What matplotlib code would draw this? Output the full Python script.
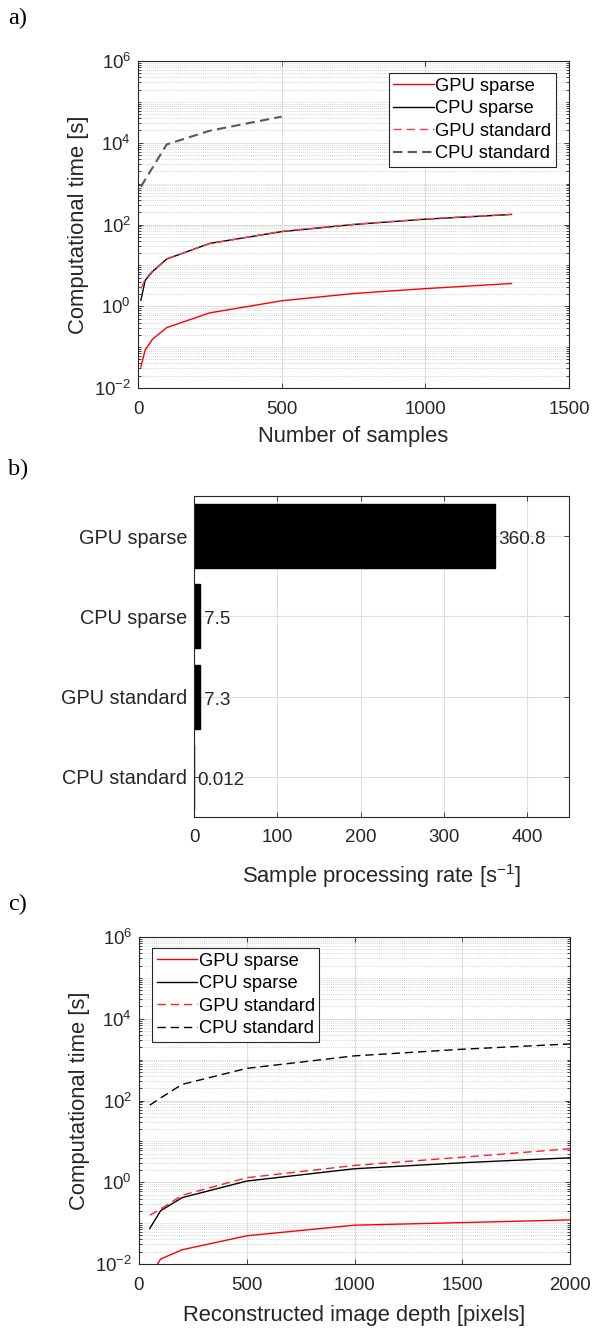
import numpy as np
import matplotlib
matplotlib.use("Agg")
import matplotlib.pyplot as plt
from matplotlib.ticker import LogLocator, NullFormatter, FixedLocator

plt.rcParams['font.family'] = ['Liberation Sans', 'DejaVu Sans']
plt.rcParams['mathtext.fontset'] = 'custom'
plt.rcParams['mathtext.rm'] = 'Liberation Sans'
plt.rcParams['mathtext.it'] = 'Liberation Sans:italic'
plt.rcParams['mathtext.bf'] = 'Liberation Sans:bold'

# ---------------- data ----------------
# panel a
a_x = [10, 25, 50, 100, 250, 500, 750, 1000, 1300]
a_gpu_sparse = [0.033, 0.085, 0.155, 0.30, 0.69, 1.36, 2.05, 2.7, 3.6]
a_cpu_sparse = [1.4, 4.3, 7.0, 14.3, 34.5, 67, 100, 135, 176]
a_gpu_standard = [2.7, 4.6, 7.2, 14.5, 34, 68, 101, 137, 178]
a_cpu_std_x = [10, 100, 250, 500]
a_cpu_standard = [840, 9100, 19700, 43500]
a_xticks = [0, 500, 1000, 1500]

# panel b
b_categories = ['GPU sparse', 'CPU sparse', 'GPU standard', 'CPU standard']
b_rates = [360.8, 7.5, 7.3, 0.012]
b_xticks = [0, 100, 200, 300, 400]

# panel c
c_x = [50, 100, 200, 500, 1000, 1500, 2000]
c_gpu_sparse = [0.005, 0.0132, 0.0223, 0.049, 0.089, 0.103, 0.12]
c_cpu_sparse = [0.074, 0.2, 0.42, 1.07, 2.14, 3.0, 3.96]
c_gpu_standard = [0.156, 0.22, 0.48, 1.29, 2.58, 4.1, 6.6]
c_cpu_standard = [77, 115, 248, 611, 1236, 1795, 2420]
c_xticks = [0, 500, 1000, 1500, 2000]

series_labels = ['GPU sparse', 'CPU sparse', 'GPU standard', 'CPU standard']
y_major = [1e-2, 1e0, 1e2, 1e4, 1e6]

# ---------------- figure ----------------
W, H = 593, 1328
fig = plt.figure(figsize=(W / 100, H / 100), dpi=100)

def rect(l, t, r, b):
    return [l / W, 1 - b / H, (r - l) / W, (b - t) / H]

AXC = '#262626'
RED = '#ff0000'

def style_axes(ax, tick_fs):
    for s in ax.spines.values():
        s.set_color(AXC)
        s.set_linewidth(0.8)
    ax.tick_params(which='both', direction='in', top=True, right=True,
                   colors=AXC, labelcolor=AXC, width=0.6)
    ax.tick_params(which='major', length=3.5, labelsize=tick_fs)
    ax.tick_params(which='minor', length=2)
    ax.tick_params(axis='x', which='major', pad=9)
    ax.tick_params(axis='y', which='major', pad=5)
    ax.set_axisbelow(True)

def log_panel(ax, xlim, xticks):
    ax.set_yscale('log')
    ax.set_ylim(1e-2, 1e6)
    ax.set_xlim(*xlim)
    ax.set_xticks(xticks)
    ax.yaxis.set_major_locator(FixedLocator(y_major))
    ax.yaxis.set_minor_locator(LogLocator(base=10, subs=np.arange(1, 10), numticks=100))
    ax.yaxis.set_minor_formatter(NullFormatter())
    ax.grid(True, which='major', color='#dedede', lw=0.8, ls='-')
    ax.grid(True, which='minor', axis='y', color='#c8c8c8', lw=0.6, ls=(0, (1, 1.5)))
    style_axes(ax, 13.4)

legend_kw = dict(fontsize=13.2, frameon=True, fancybox=False, framealpha=1,
                 edgecolor='#262626', borderaxespad=0, handlelength=2.2,
                 handletextpad=0.1, labelspacing=0.3, borderpad=0.25)

# ---- panel a ----
axa = fig.add_axes(rect(138, 61, 569, 388))
log_panel(axa, (0, 1500), a_xticks)
axa.plot(a_x, a_gpu_sparse, color=RED, lw=1.0, label=series_labels[0])
axa.plot(a_x, a_cpu_sparse, color='black', lw=1.0, label=series_labels[1])
axa.plot(a_x, a_gpu_standard, color='#ff4040', lw=1.0, ls=(0, (6, 3.5)), label=series_labels[2])
axa.plot(a_cpu_std_x, a_cpu_standard, color='#5a5a5a', lw=1.5, ls=(0, (4.5, 2.5)), label=series_labels[3])
leg = axa.legend(loc='upper right', bbox_to_anchor=(0.970, 0.963), **legend_kw)
leg.get_frame().set_linewidth(0.8)
axa.set_xlabel('Number of samples', fontsize=15.8, color=AXC)
axa.xaxis.set_label_coords(0.5, -0.116)
axa.set_ylabel('Computational time [s]', fontsize=15.8, color=AXC)
axa.yaxis.set_label_coords(-0.114, 0.5)

# ---- panel b ----
axb = fig.add_axes(rect(194, 496, 569, 817))
ypos = np.arange(len(b_categories))
axb.barh(ypos, b_rates, height=0.8, color='black', edgecolor='black')
axb.set_yticks(ypos)
axb.set_yticklabels(b_categories)
axb.set_ylim(len(b_categories) - 0.5, -0.5)
axb.set_xlim(0, 450)
axb.set_xticks(b_xticks)
axb.grid(True, which='major', color='#dedede', lw=0.8, ls='-')
style_axes(axb, 13.5)
axb.tick_params(axis='y', labelsize=14.3, pad=5)
for yv, v in zip(ypos, b_rates):
    axb.annotate(f"{v:g}", (v, yv), xytext=(2.5, -2.5), textcoords='offset points',
                 va='center', ha='left', fontsize=13.6, color=AXC)
axb.set_xlabel('Sample processing rate [s$^{-1}$]', fontsize=15.8, color=AXC)
axb.xaxis.set_label_coords(0.5, -0.140)

# ---- panel c ----
axc = fig.add_axes(rect(139, 937, 570, 1264))
log_panel(axc, (0, 2000), c_xticks)
axc.plot(c_x, c_gpu_sparse, color=RED, lw=1.0, label=series_labels[0])
axc.plot(c_x, c_cpu_sparse, color='black', lw=1.0, label=series_labels[1])
axc.plot(c_x, c_gpu_standard, color='#ff2020', lw=1.0, ls=(0, (6, 3.5)), label=series_labels[2])
axc.plot(c_x, c_cpu_standard, color='black', lw=1.0, ls=(0, (6, 3.5)), label=series_labels[3])
leg = axc.legend(loc='upper left', bbox_to_anchor=(0.030, 0.966), **legend_kw)
leg.get_frame().set_linewidth(0.8)
axc.set_xlabel('Reconstructed image depth [pixels]', fontsize=15.8, color=AXC)
axc.xaxis.set_label_coords(0.5, -0.125)
axc.set_ylabel('Computational time [s]', fontsize=15.8, color=AXC)
axc.yaxis.set_label_coords(-0.114, 0.5)

# panel letters
for lab, yc in [('a)', 18), ('b)', 469), ('c)', 904)]:
    fig.text(8 / W, 1 - yc / H, lab, family=['Liberation Serif', 'DejaVu Serif'],
             fontsize=17.5, ha='left', va='center', color='black')

fig.savefig('out.png', dpi=100)
